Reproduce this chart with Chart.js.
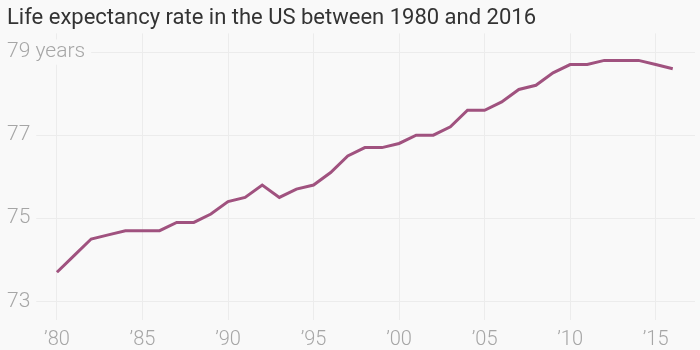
<!DOCTYPE HTML>
<html>
<head>
    <script src="https://cdn.jsdelivr.net/npm/chart.js"></script>
    <style>
        body {
            margin: 0;
            background: #f9f9f9;
        }
        .container {
            width: 700px;
            height: 350px;
        }
    </style>
</head>
<body>
    <div class="container">
        <canvas id="lifeChart"></canvas>
    </div>

    <script>
        const years = [1980, 1981, 1982, 1983, 1984, 1985, 1986, 1987, 1988, 1989,
                       1990, 1991, 1992, 1993, 1994, 1995, 1996, 1997, 1998, 1999,
                       2000, 2001, 2002, 2003, 2004, 2005, 2006, 2007, 2008, 2009,
                       2010, 2011, 2012, 2013, 2014, 2015, 2016];
        const lifeExpectancy = [73.7, 74.1, 74.5, 74.6, 74.7, 74.7, 74.7, 74.9, 74.9, 75.1,
                                75.4, 75.5, 75.8, 75.5, 75.7, 75.8, 76.1, 76.5, 76.7, 76.7,
                                76.8, 77.0, 77.0, 77.2, 77.6, 77.6, 77.8, 78.1, 78.2, 78.5,
                                78.7, 78.7, 78.8, 78.8, 78.8, 78.7, 78.6];
        const xTicks = [1980, 1985, 1990, 1995, 2000, 2005, 2010, 2015];
        const yTicks = [73, 75, 77, 79];

        const bg = '#f9f9f9';
        const points = years.map((y, i) => ({ x: y, y: lifeExpectancy[i] }));

        const ctx = document.getElementById('lifeChart').getContext('2d');
        new Chart(ctx, {
            type: 'line',
            data: {
                datasets: [{
                    data: points,
                    borderColor: '#a0527f',
                    borderWidth: 3,
                    pointRadius: 0,
                    tension: 0
                }]
            },
            options: {
                responsive: true,
                maintainAspectRatio: false,
                animation: false,
                layout: { padding: { left: 7, right: 5, top: 0, bottom: 0 } },
                plugins: {
                    legend: { display: false },
                    tooltip: { enabled: false },
                    title: {
                        display: true,
                        text: 'Life expectancy rate in the US between 1980 and 2016',
                        align: 'start',
                        color: '#333333',
                        font: { family: 'Roboto', size: 22, weight: 'normal', lineHeight: 1.2 },
                        padding: { top: 5, bottom: 2 }
                    }
                },
                scales: {
                    x: {
                        type: 'linear',
                        min: 1977.08,
                        max: 2017.3,
                        afterBuildTicks: (scale) => {
                            scale.ticks = xTicks.map(v => ({ value: v }));
                        },
                        afterFit: (scale) => {
                            scale.height = 30;
                        },
                        grid: { color: '#ececec', drawTicks: false },
                        border: { display: false },
                        ticks: {
                            color: '#a6a6a6',
                            padding: 10,
                            maxRotation: 0,
                            font: { family: 'Roboto', size: 20, weight: 300, lineHeight: 1 },
                            callback: (v) => '\u2019' + String(v).slice(2)
                        }
                    },
                    y: {
                        min: 72.55,
                        max: 79.45,
                        afterBuildTicks: (scale) => {
                            scale.ticks = yTicks.map(v => ({ value: v }));
                        },
                        afterFit: (scale) => {
                            scale.width = 0;
                        },
                        grid: { color: '#ececec', drawTicks: false },
                        border: { display: false },
                        ticks: {
                            mirror: true,
                            padding: 0,
                            color: '#a6a6a6',
                            showLabelBackdrop: true,
                            backdropColor: bg,
                            backdropPadding: { top: 0, bottom: 0, left: 0, right: 6 },
                            font: { family: 'Roboto', size: 21, weight: 300 },
                            callback: (v) => v === 79 ? '79 years' : String(v)
                        }
                    }
                }
            }
        });
    </script>
</body>
</html>
